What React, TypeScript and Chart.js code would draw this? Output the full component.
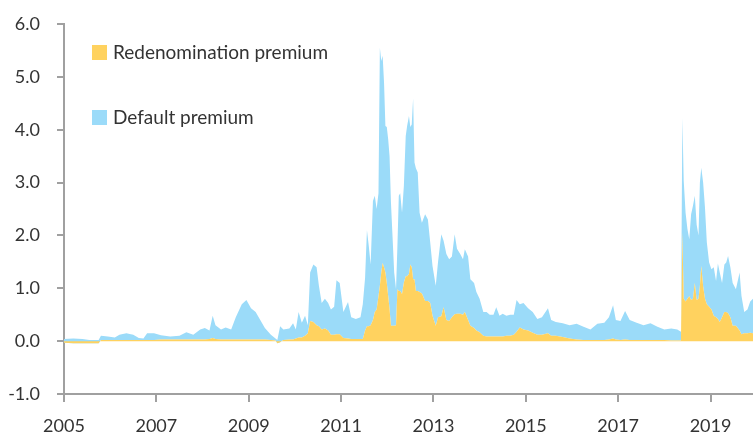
import React, { useEffect, useRef } from "react";
import { Chart, registerables } from "chart.js";

Chart.register(...registerables);

const seriesNames = ["Redenomination premium", "Default premium"];
const tickYears = [2005, 2007, 2009, 2011, 2013, 2015, 2017, 2019];
const yTicks = [-1, 0, 1, 2, 3, 4, 5, 6];

const dates = [
  2005.0, 2005.2, 2005.4, 2005.55, 2005.75, 2005.8, 2005.95, 2006.1, 2006.2, 2006.35,
  2006.5, 2006.62, 2006.72, 2006.8, 2006.95, 2007.1, 2007.3, 2007.5, 2007.65, 2007.8,
  2007.95, 2008.05, 2008.15, 2008.22, 2008.28, 2008.4, 2008.5, 2008.62, 2008.72, 2008.85,
  2008.95, 2009.05, 2009.15, 2009.25, 2009.35, 2009.48, 2009.58, 2009.62, 2009.68, 2009.75,
  2009.88, 2009.96, 2010.02, 2010.08, 2010.15, 2010.22, 2010.28, 2010.33, 2010.4, 2010.47,
  2010.52, 2010.58, 2010.65, 2010.72, 2010.78, 2010.85, 2010.9, 2010.97, 2011.05, 2011.15,
  2011.22, 2011.32, 2011.42, 2011.47, 2011.52, 2011.56, 2011.6, 2011.64, 2011.69, 2011.73,
  2011.77, 2011.81, 2011.84, 2011.87, 2011.9, 2011.93, 2011.96, 2011.99, 2012.02, 2012.05,
  2012.08, 2012.11, 2012.15, 2012.19, 2012.22, 2012.25, 2012.28, 2012.32, 2012.36, 2012.4,
  2012.43, 2012.47, 2012.5, 2012.53, 2012.56, 2012.59, 2012.62, 2012.66, 2012.7, 2012.75,
  2012.82, 2012.88, 2012.93, 2012.98, 2013.05, 2013.1, 2013.17, 2013.22, 2013.28, 2013.34,
  2013.4, 2013.46, 2013.51, 2013.58, 2013.64, 2013.68, 2013.75, 2013.8, 2013.88, 2013.93,
  2014.0, 2014.08, 2014.15, 2014.22, 2014.3, 2014.36, 2014.43, 2014.5, 2014.58, 2014.66,
  2014.74, 2014.8, 2014.87, 2014.95, 2015.05, 2015.15, 2015.25, 2015.35, 2015.48, 2015.55,
  2015.65, 2015.8, 2015.95, 2016.1, 2016.25, 2016.4, 2016.55, 2016.7, 2016.8, 2016.89,
  2016.95, 2017.05, 2017.15, 2017.25, 2017.4, 2017.55, 2017.7, 2017.85, 2018.0, 2018.15,
  2018.28, 2018.36, 2018.39, 2018.42, 2018.46, 2018.5, 2018.54, 2018.58, 2018.62, 2018.66,
  2018.7, 2018.74, 2018.77, 2018.8, 2018.84, 2018.88, 2018.92, 2018.97, 2019.02, 2019.07,
  2019.12, 2019.16, 2019.2, 2019.25, 2019.3, 2019.34, 2019.38, 2019.43, 2019.48, 2019.55,
  2019.63, 2019.67, 2019.73, 2019.8, 2019.86, 2019.92,
];

const redenomination = [
  -0.03, -0.04, -0.04, -0.04, -0.04, 0.02, 0.02, 0.02, 0.02, 0.02,
  0.02, 0.02, 0.02, 0.02, 0.02, 0.03, 0.03, 0.03, 0.03, 0.03,
  0.03, 0.03, 0.04, 0.06, 0.04, 0.03, 0.03, 0.03, 0.03, 0.03,
  0.03, 0.03, 0.03, 0.03, 0.03, 0.02, 0.01, -0.04, -0.02, 0.02,
  0.03, 0.03, 0.05, 0.07, 0.07, 0.1, 0.15, 0.38, 0.36, 0.3,
  0.28, 0.22, 0.24, 0.2, 0.12, 0.12, 0.13, 0.13, 0.06, 0.05,
  0.04, 0.04, 0.04, 0.04, 0.2, 0.28, 0.28, 0.3, 0.4, 0.55,
  0.6, 0.85, 1.05, 1.3, 1.48, 1.4, 1.3, 1.1, 0.86, 0.61,
  0.29, 0.29, 0.29, 0.3, 0.98, 0.95, 0.95, 0.89, 1.11, 1.23,
  1.23, 1.27, 1.45, 1.4, 1.17, 1.17, 0.95, 0.95, 0.93, 0.9,
  0.76, 0.76, 0.72, 0.48, 0.29, 0.45, 0.47, 0.64, 0.4, 0.38,
  0.45, 0.51, 0.52, 0.52, 0.5, 0.55, 0.4, 0.29, 0.25, 0.2,
  0.17, 0.1, 0.09, 0.09, 0.09, 0.09, 0.09, 0.09, 0.1, 0.1,
  0.12, 0.18, 0.26, 0.22, 0.2, 0.16, 0.12, 0.12, 0.15, 0.1,
  0.1, 0.08, 0.05, 0.03, 0.02, 0.02, 0.02, 0.02, 0.03, 0.05,
  0.03, 0.02, 0.03, 0.02, 0.02, 0.02, 0.02, 0.02, 0.02, 0.01,
  0.01, 0.01, 2.05, 0.8, 0.75, 0.8, 0.85, 0.78, 0.8, 1.1,
  0.78, 0.8, 1.04, 1.42, 1.04, 0.8, 0.7, 0.65, 0.6, 0.48,
  0.45, 0.42, 0.36, 0.45, 0.55, 0.55, 0.53, 0.45, 0.29, 0.29,
  0.2, 0.13, 0.15, 0.15, 0.16, 0.15,
];

const defaultPremium = [
  0.07, 0.09, 0.08, 0.06, 0.06, 0.08, 0.07, 0.05, 0.1, 0.13,
  0.1, 0.04, 0.03, 0.13, 0.13, 0.08, 0.06, 0.07, 0.14, 0.09,
  0.19, 0.22, 0.16, 0.42, 0.26, 0.19, 0.23, 0.19, 0.42, 0.67,
  0.75, 0.59, 0.52, 0.37, 0.22, 0.1, 0.04, 0.06, 0.3, 0.2,
  0.21, 0.31, 0.17, 0.48, 0.28, 0.38, 0.15, 0.92, 1.09, 1.1,
  0.77, 0.5, 0.56, 0.52, 0.48, 0.53, 1.02, 0.97, 0.49, 0.69,
  0.41, 0.38, 0.41, 0.66, 1.0, 1.82, 1.52, 1.15, 2.25, 2.2,
  1.9, 1.95, 4.5, 4.0, 3.92, 3.5, 2.77, 2.95, 2.96, 2.89,
  2.34, 1.77, 1.01, 0.68, 0.82, 1.8, 1.85, 1.54, 1.83, 2.65,
  2.84, 2.99, 2.6, 2.7, 3.42, 2.21, 2.32, 2.24, 1.5, 1.34,
  1.64, 1.54, 1.15, 0.94, 0.76, 1.05, 1.55, 1.26, 1.25, 1.17,
  1.15, 1.51, 1.23, 1.13, 1.05, 1.19, 1.2, 0.88, 0.85, 0.73,
  0.63, 0.45, 0.46, 0.41, 0.41, 0.55, 0.39, 0.43, 0.38, 0.4,
  0.38, 0.6, 0.44, 0.5, 0.42, 0.39, 0.3, 0.33, 0.47, 0.3,
  0.26, 0.26, 0.25, 0.3, 0.25, 0.2, 0.31, 0.33, 0.42, 0.63,
  0.37, 0.36, 0.54, 0.38, 0.33, 0.28, 0.32, 0.25, 0.2, 0.23,
  0.21, 0.17, 2.17, 2.23, 1.68, 1.32, 1.08, 1.62, 1.76, 1.65,
  1.42, 1.2, 1.96, 1.86, 1.96, 1.73, 1.17, 0.84, 0.76, 0.92,
  0.69, 1.05, 0.94, 0.65, 0.9, 0.94, 1.08, 0.95, 0.81, 0.69,
  1.1, 0.73, 0.4, 0.45, 0.59, 0.65,
];

const YELLOW = "#FFD25F";
const BLUE = "#9BDBF9";
const AXIS = "#a0a0a0";
const TEXT = "#333333";
const FONT = "Lato, 'Noto Sans', sans-serif";

export default function App() {
  const canvasRef = useRef<HTMLCanvasElement | null>(null);

  useEffect(() => {
    const canvas = canvasRef.current;
    if (!canvas) return;
    const chart = new Chart(canvas, {
      type: "line",
      data: {
        datasets: [
          {
            label: seriesNames[0],
            data: dates.map((d, i) => ({ x: d, y: redenomination[i] })),
            backgroundColor: YELLOW,
            borderColor: YELLOW,
            borderWidth: 0,
            pointRadius: 0,
            fill: "origin",
            tension: 0,
          },
          {
            label: seriesNames[1],
            data: dates.map((d, i) => ({ x: d, y: defaultPremium[i] })),
            backgroundColor: BLUE,
            borderColor: BLUE,
            borderWidth: 0,
            pointRadius: 0,
            fill: "-1",
            tension: 0,
          },
        ],
      },
      options: {
        animation: false,
        responsive: true,
        maintainAspectRatio: false,
        layout: { padding: { top: 24, right: 0, bottom: 0, left: 0 } },
        plugins: {
          legend: { display: false },
          tooltip: { enabled: false },
        },
        scales: {
          x: {
            type: "linear",
            min: 2005,
            max: 2019.92,
            afterBuildTicks: (scale: any) => {
              scale.ticks = tickYears.map((v) => ({ value: v }));
            },
            afterFit: (scale: any) => {
              scale.height = 42;
            },
            grid: {
              drawOnChartArea: false,
              drawTicks: true,
              tickLength: 8,
              color: AXIS,
              lineWidth: 2,
            },
            border: { display: true, color: AXIS, width: 2 },
            ticks: {
              autoSkip: false,
              maxRotation: 0,
              padding: 13,
              color: TEXT,
              font: { family: FONT, size: 18 },
              callback: (v: any) => String(v),
            },
          },
          y: {
            stacked: "single" as any,
            min: -1,
            max: 6,
            afterBuildTicks: (scale: any) => {
              scale.ticks = yTicks.map((v) => ({ value: v }));
            },
            afterFit: (scale: any) => {
              scale.width = 64;
              scale.paddingTop = 0;
              scale.paddingBottom = 0;
            },
            grid: {
              drawOnChartArea: false,
              drawTicks: true,
              tickLength: 7,
              color: AXIS,
              lineWidth: 2,
            },
            border: { display: true, color: AXIS, width: 2 },
            ticks: {
              padding: 17,
              color: TEXT,
              font: { family: FONT, size: 18 },
              callback: (v: any) => Number(v).toFixed(1),
            },
          },
        },
      },
    });
    return () => chart.destroy();
  }, []);

  const legendItem = (color: string, text: string, top: number) => (
    <div
      style={{
        position: "absolute",
        left: 92,
        top,
        display: "flex",
        alignItems: "center",
        fontFamily: FONT,
        fontSize: 19,
        color: TEXT,
        whiteSpace: "nowrap",
        lineHeight: "20px",
      }}
    >
      <span
        style={{
          display: "inline-block",
          width: 15,
          height: 15,
          background: color,
          marginRight: 6,
        }}
      />
      <span>{text}</span>
    </div>
  );

  return (
    <div
      style={{
        position: "fixed",
        left: 0,
        top: 0,
        width: 753,
        height: 436,
        background: "#ffffff",
      }}
    >
      <canvas ref={canvasRef} />
      {legendItem(YELLOW, seriesNames[0], 42)}
      {legendItem(BLUE, seriesNames[1], 107)}
    </div>
  );
}
